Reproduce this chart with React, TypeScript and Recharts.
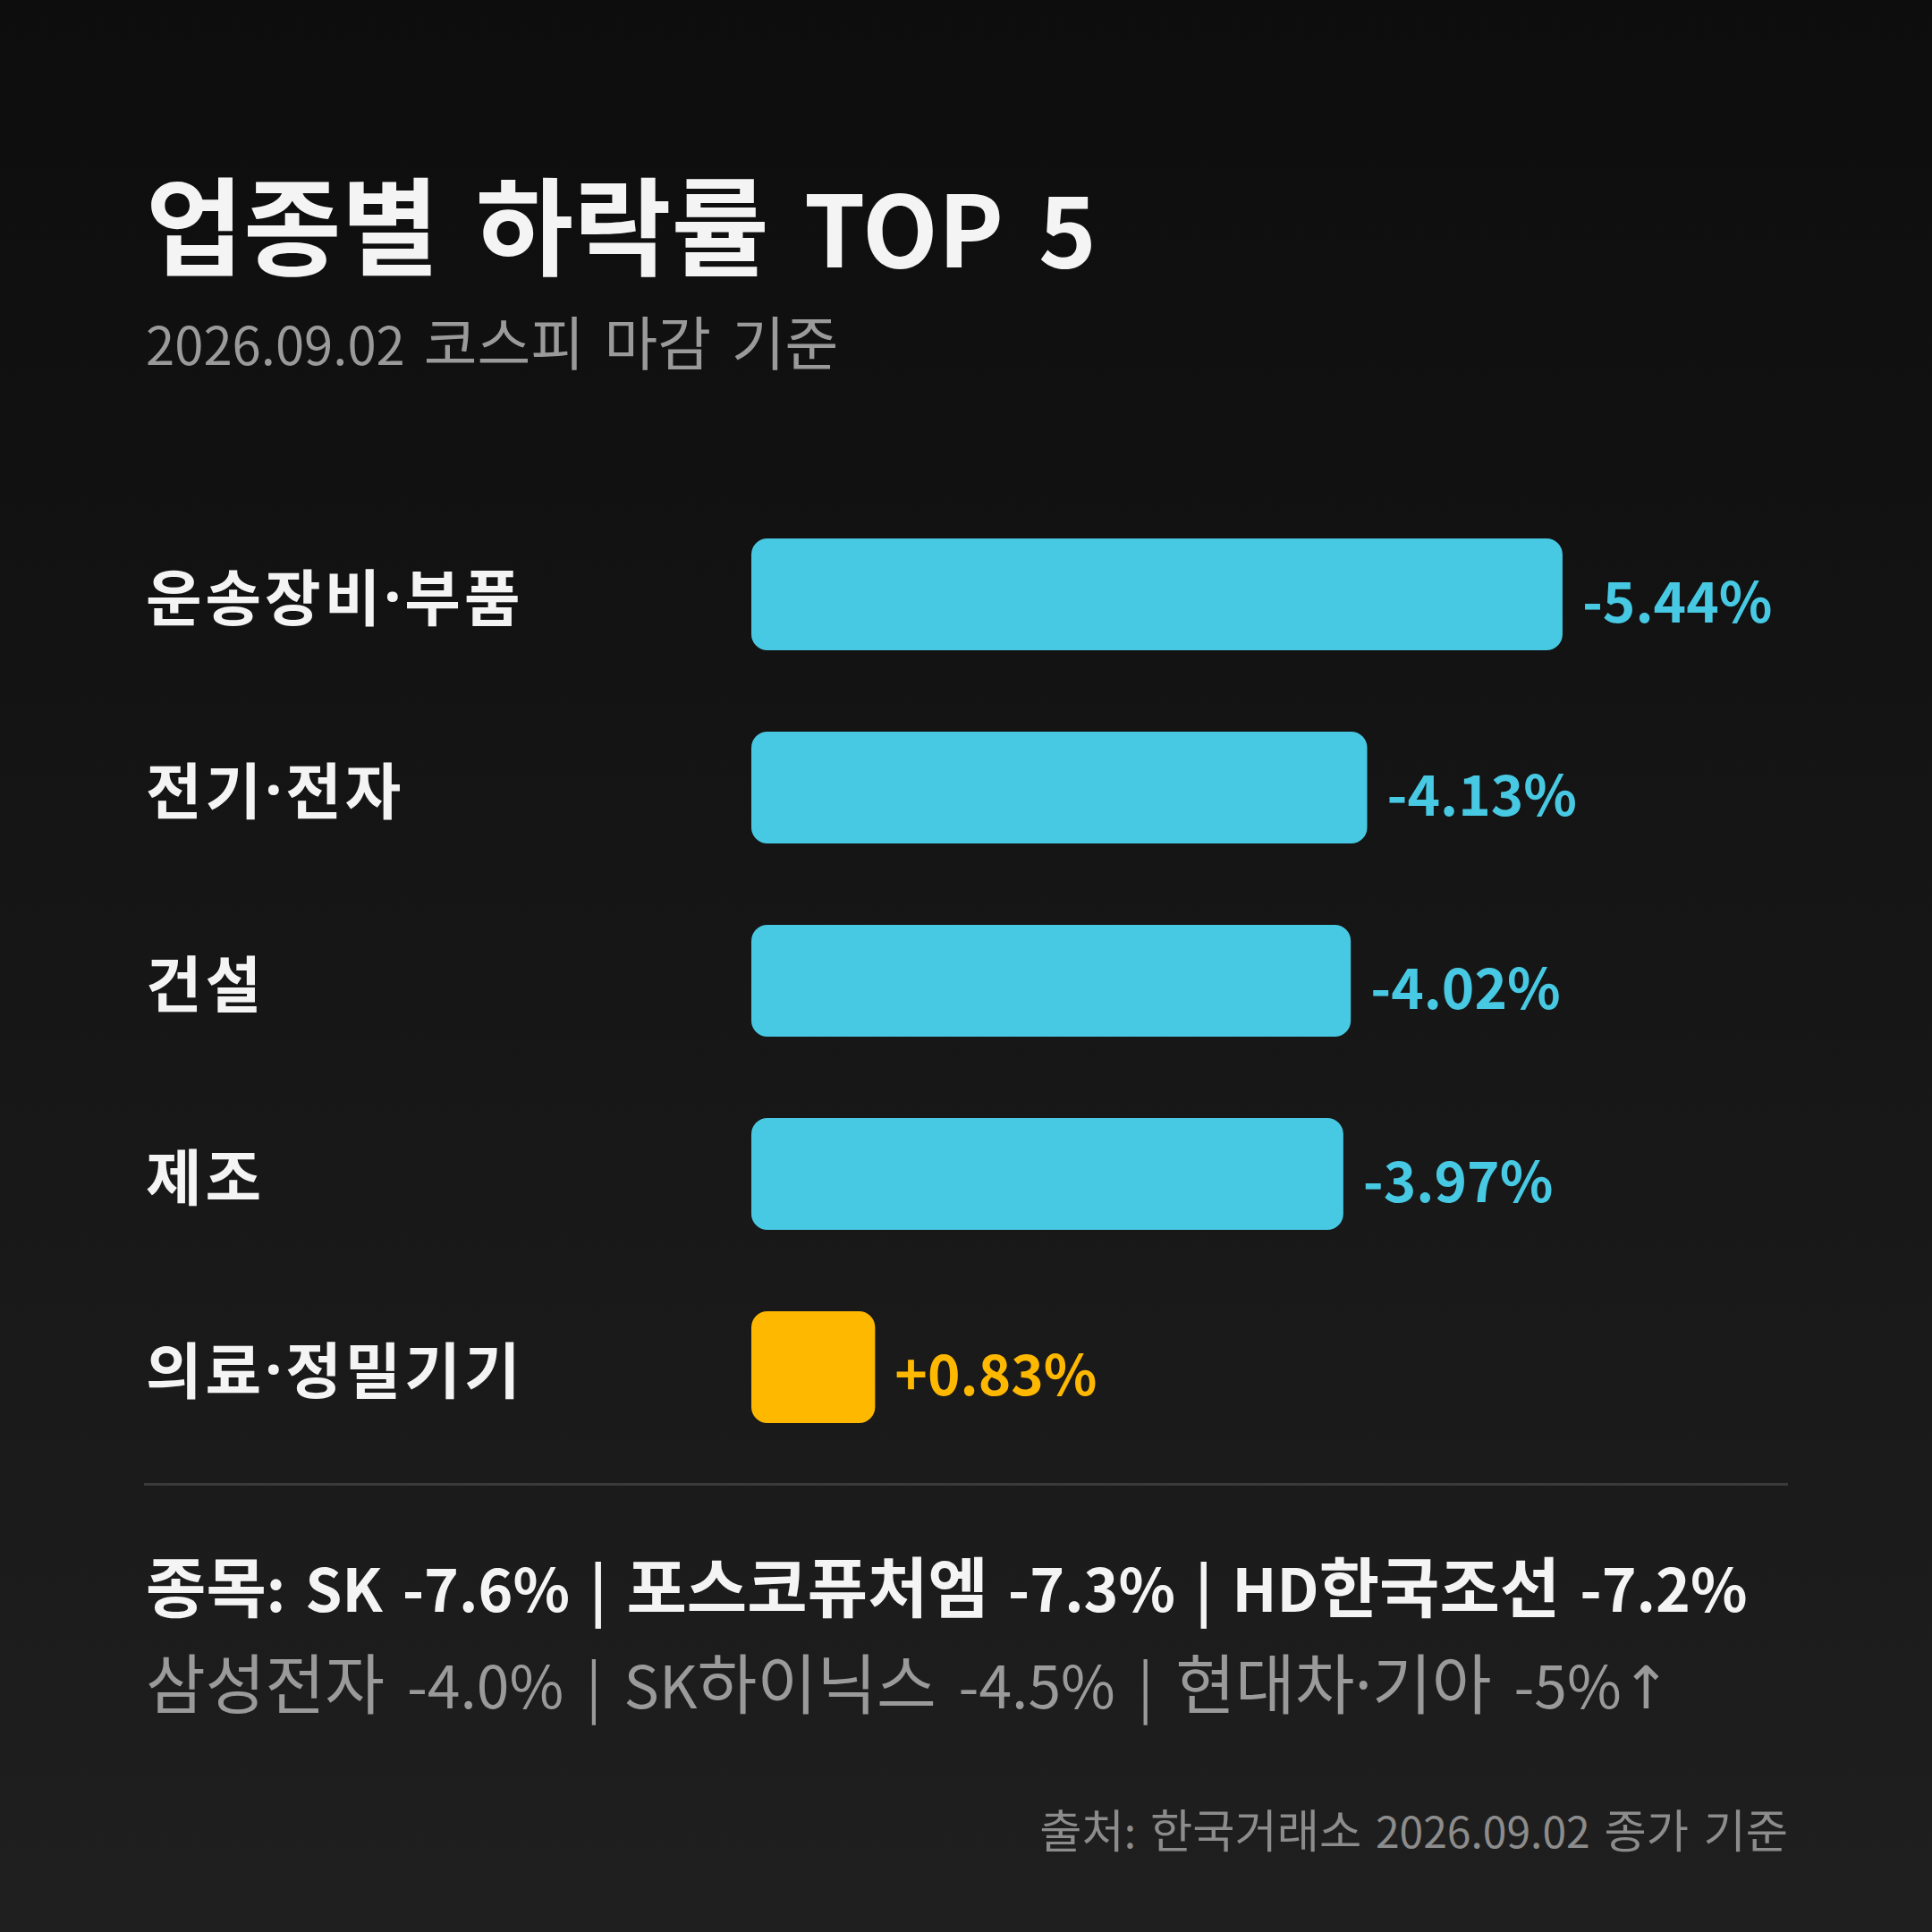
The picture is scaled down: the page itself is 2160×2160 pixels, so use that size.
import { BarChart, Bar, Cell, LabelList, XAxis, YAxis } from 'recharts';

const categories = ['운송장비·부품', '전기·전자', '건설', '제조', '의료·정밀기기'];
const changes = [-5.44, -4.13, -4.02, -3.97, 0.83];
const xDomain = [0, 7];

const titleText = '업종별 하락률 TOP 5';
const subtitleText = '2026.09.02 코스피 마감 기준';
const stocksTop = '종목: SK -7.6% | 포스코퓨처엠 -7.3% | HD한국조선 -7.2%';
const stocksBottom = '삼성전자 -4.0% | SK하이닉스 -4.5% | 현대차·기아 -5%↑';
const sourceText = '출처: 한국거래소 2026.09.02 종가 기준';

const FONT = "'Noto Sans CJK KR', 'Noto Sans', sans-serif";
const NARROW = "'Noto Sans', 'DejaVu Sans', sans-serif";
const DOWN = '#48c9e3';
const UP = '#ffb800';

const data = categories.map((name, i) => ({
  name,
  change: changes[i],
  size: Math.abs(changes[i]),
}));

const fmt = (v: number) => (v > 0 ? `+${v.toFixed(2)}%` : `${v.toFixed(2)}%`);

// the CJK font draws · and ↑ full width; the reference has narrow ones
function narrowBits(s: string, key: string) {
  return s.split(/([·↑])/).map((p, i) =>
    p === '·' || p === '↑' ? (
      <span key={key + i} style={{ fontFamily: NARROW }}>{p}</span>
    ) : (
      p
    )
  );
}

// hangul in the reference font runs a bit larger than the latin
function Mixed({ text, scale }: { text: string; scale: number }) {
  const parts = text.split(/([가-힣]+(?:[\s·]+[가-힣]+)*)/);
  return (
    <>
      {parts.map((p, i) =>
        /[가-힣]/.test(p) ? (
          <span key={i} style={{ fontSize: `${scale}em` }}>{narrowBits(p, `h${i}`)}</span>
        ) : (
          <span key={i}>{narrowBits(p, `l${i}`)}</span>
        )
      )}
    </>
  );
}

// category names sit at the left page margin, not next to the axis
function CategoryTick({ y, payload }: any) {
  const parts = String(payload.value).split(/(·)/);
  return (
    <text x={163} y={y} fill="#f4f4f4" fontSize={68} fontWeight={700} fontFamily={FONT} letterSpacing={4} textAnchor="start" dominantBaseline="central">
      {parts.map((p, i) =>
        p === '·' ? (
          <tspan key={i} fontFamily={NARROW}>{p}</tspan>
        ) : (
          <tspan key={i}>{p}</tspan>
        )
      )}
    </text>
  );
}

function ValueLabel({ x, y, width, height, value }: any) {
  const v = Number(value);
  return (
    <text
      x={x + width + 22}
      y={y + height / 2 + 4}
      fill={v < 0 ? DOWN : UP}
      fontSize={62}
      fontWeight={700}
      fontFamily={FONT}
      textAnchor="start"
      dominantBaseline="central"
    >
      {fmt(v)}
    </text>
  );
}

const line = { position: 'absolute' as const, lineHeight: 1.2, whiteSpace: 'nowrap' as const };

export default function App() {
  return (
    <div
      style={{
        position: 'absolute',
        left: 0,
        top: 0,
        width: 2160,
        height: 2160,
        background: 'linear-gradient(180deg, #0d0d0d 0%, #161616 50%, #1f1f1f 100%)',
        fontFamily: FONT,
        overflow: 'hidden',
      }}
    >
      <div style={{ ...line, left: 163, top: 176, fontSize: 110, fontWeight: 700, color: '#f4f4f4', wordSpacing: 14 }}>
        <Mixed text={titleText} scale={1.08} />
      </div>
      <div style={{ ...line, left: 163, top: 342, fontSize: 58, color: '#9a9a9a', wordSpacing: 8 }}>
        <Mixed text={subtitleText} scale={1.12} />
      </div>

      <div style={{ position: 'absolute', left: 0, top: 556 }}>
        <BarChart width={2160} height={1080} data={data} layout="vertical" margin={{ top: 0, right: 153, bottom: 0, left: 0 }}>
          <XAxis type="number" domain={xDomain} hide />
          <YAxis type="category" dataKey="name" width={840} axisLine={false} tickLine={false} tick={<CategoryTick />} interval={0} />
          <Bar dataKey="size" barSize={125} radius={18} isAnimationActive={false}>
            {data.map((d) => (
              <Cell key={d.name} fill={d.change < 0 ? DOWN : UP} />
            ))}
            <LabelList dataKey="change" content={<ValueLabel />} />
          </Bar>
        </BarChart>
      </div>

      <div style={{ position: 'absolute', left: 161, top: 1658, width: 1838, height: 3, background: '#3a3a3a' }} />

      <div style={{ ...line, left: 163, top: 1727, fontSize: 66, fontWeight: 700, color: '#f4f4f4', wordSpacing: 7 }}>
        <Mixed text={stocksTop} scale={1.11} />
      </div>
      <div style={{ ...line, left: 163, top: 1835, fontSize: 66, color: '#9a9a9a', wordSpacing: 10 }}>
        <Mixed text={stocksBottom} scale={1.1} />
      </div>
      <div style={{ ...line, right: 161, top: 2013, fontSize: 48, color: '#8c8c8c', wordSpacing: 5 }}>
        <Mixed text={sourceText} scale={1.07} />
      </div>
    </div>
  );
}
